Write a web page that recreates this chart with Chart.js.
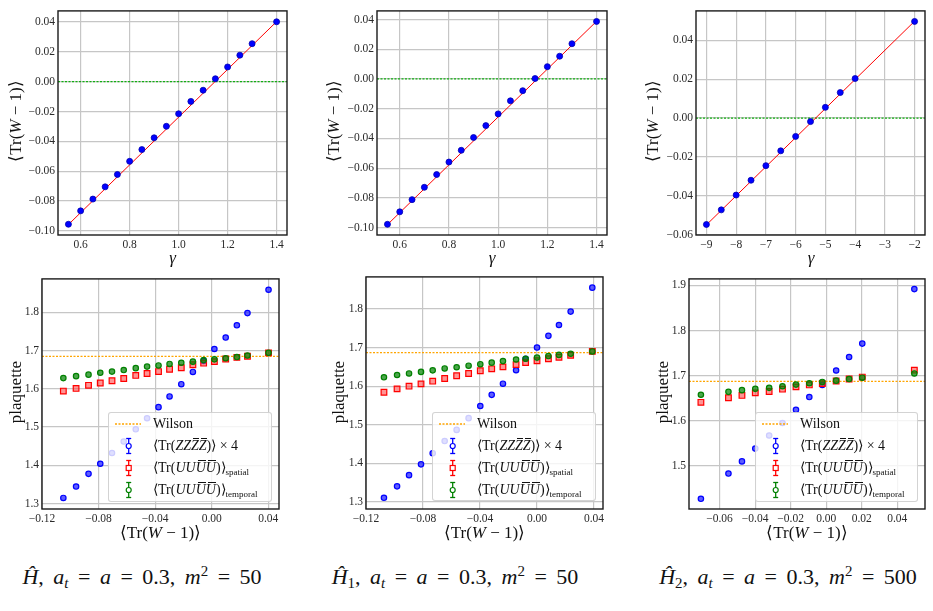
<!DOCTYPE html>
<html><head><meta charset="utf-8">
<script src="https://cdn.jsdelivr.net/npm/chart.js@4"></script>
<style>
body{margin:0;background:#fff;width:933px;height:611px;overflow:hidden;position:relative;font-family:'Liberation Serif','Times New Roman',serif;color:#111;}
canvas{position:absolute;}
.lab{position:absolute;white-space:nowrap;font-size:17px;line-height:1;transform:translate(-50%,-50%);}
.rot{transform:translate(-50%,-50%) rotate(-90deg);}
.cap{position:absolute;white-space:nowrap;font-size:22px;line-height:1;transform:translate(-50%,-50%);word-spacing:4px;font-family:'Liberation Serif',serif;}
sub,sup{font-size:0.68em;line-height:0;}
sub{vertical-align:-0.28em;}
sup{vertical-align:0.55em;}
.leg{position:absolute;background:rgba(255,255,255,0.8);border:1px solid rgba(200,200,200,0.8);border-radius:3px;box-sizing:border-box;}
.row{position:absolute;left:0;height:20px;width:100%;}
.row > svg{position:absolute;left:5px;top:0;}
.row > span{position:absolute;left:44px;top:0;line-height:20px;font-size:14px;white-space:nowrap;}
.row sub{font-size:9px;vertical-align:-3px;}
.ob{position:relative;display:inline-block;line-height:1;}
.ob::before{content:'';position:absolute;left:25%;right:0;top:-0.05em;border-top:1px solid #111;}
</style></head><body>
<script>
// ---- top row: <Tr(W-1)> versus gamma ----
const p1Gamma = [0.55,0.60,0.65,0.70,0.75,0.80,0.85,0.90,0.95,1.00,1.05,1.10,1.15,1.20,1.25,1.30,1.40];
const p1TrW   = [-0.0956,-0.0866,-0.0787,-0.0705,-0.0622,-0.0534,-0.0455,-0.0376,-0.0299,-0.0215,-0.0132,-0.0057,0.0020,0.0099,0.0178,0.0255,0.0402];
const p1FitX  = [0.55,1.40];
const p1FitY  = [-0.0958,0.0403];

const p2Gamma = [0.55,0.60,0.65,0.70,0.75,0.80,0.85,0.90,0.95,1.00,1.05,1.10,1.15,1.20,1.25,1.30,1.40];
const p2TrW   = [-0.0978,-0.0894,-0.0812,-0.0729,-0.0643,-0.0559,-0.0480,-0.0394,-0.0314,-0.0235,-0.0147,-0.0079,0.0003,0.0083,0.0153,0.0237,0.0387];
const p2FitX  = [0.55,1.40];
const p2FitY  = [-0.0980,0.0388];

const p3Gamma = [-9,-8.5,-8,-7.5,-7,-6.5,-6,-5.5,-5,-4.5,-4,-2];
const p3TrW   = [-0.0546,-0.0471,-0.0395,-0.0319,-0.0244,-0.0168,-0.0094,-0.0018,0.0055,0.0131,0.0203,0.0496];
const p3FitX  = [-9,-2];
const p3FitY  = [-0.0548,0.0497];

// ---- bottom row: plaquette versus <Tr(W-1)> ----
const p4TrW      = [-0.1049,-0.0959,-0.0871,-0.0788,-0.0705,-0.0622,-0.0537,-0.0457,-0.0376,-0.0298,-0.0215,-0.0133,-0.0057,0.0019,0.0099,0.0178,0.0253,0.0402];
const p4Zzzz     = [1.3145,1.3443,1.3775,1.4039,1.432,1.462,1.494,1.523,1.552,1.580,1.612,1.644,1.673,1.704,1.734,1.766,1.798,1.859];
const p4Spatial  = [1.594,1.601,1.609,1.615,1.621,1.627,1.635,1.640,1.645,1.651,1.655,1.663,1.667,1.671,1.678,1.682,1.685,1.694];
const p4Temporal = [1.628,1.633,1.637,1.642,1.645,1.649,1.654,1.658,1.661,1.665,1.668,1.671,1.675,1.677,1.680,1.683,1.687,1.694];
const p4Wilson   = 1.685;

const p5TrW      = [-0.1074,-0.0982,-0.0898,-0.0814,-0.0732,-0.0648,-0.0564,-0.0480,-0.0398,-0.0318,-0.0239,-0.0147,-0.0080,0.0000,0.0080,0.0154,0.0236,0.0388];
const p5Zzzz     = [1.311,1.3407,1.3696,1.3976,1.4265,1.4579,1.4868,1.5173,1.5487,1.5776,1.6065,1.6413,1.671,1.700,1.7304,1.7584,1.7932,1.8552];
const p5Spatial  = [1.5844,1.593,1.600,1.606,1.613,1.620,1.627,1.633,1.640,1.645,1.650,1.656,1.661,1.666,1.671,1.675,1.680,1.690];
const p5Temporal = [1.623,1.629,1.633,1.637,1.641,1.646,1.649,1.653,1.657,1.661,1.665,1.669,1.671,1.674,1.678,1.681,1.684,1.690];
const p5Wilson   = 1.687;

const p6TrW      = [-0.0705,-0.0550,-0.0474,-0.0399,-0.0321,-0.0246,-0.0170,-0.0095,-0.0022,0.0056,0.0129,0.0203,0.0496];
const p6Zzzz     = [1.4264,1.4825,1.5095,1.5379,1.567,1.5947,1.6239,1.6523,1.6792,1.7113,1.7412,1.7710,1.892];
const p6Spatial  = [1.6406,1.6508,1.6559,1.6617,1.6647,1.6698,1.6749,1.6792,1.6821,1.688,1.6923,1.6967,1.712];
const p6Temporal = [1.6574,1.6639,1.6676,1.6705,1.6727,1.6763,1.68,1.6829,1.6858,1.6887,1.6923,1.6953,1.7047];
const p6Wilson   = 1.6872;

// ---- tick values ----
const gammaTicks12 = [0.6,0.8,1.0,1.2,1.4];
const gammaTicks3  = [-9,-8,-7,-6,-5,-4,-3,-2];
const trwTicks12   = [-0.10,-0.08,-0.06,-0.04,-0.02,0.00,0.02,0.04];
const trwTicks3    = [-0.06,-0.04,-0.02,0.00,0.02,0.04];
const bxTicks45    = [-0.12,-0.08,-0.04,0.00,0.04];
const bxTicks6     = [-0.06,-0.04,-0.02,0.00,0.02,0.04];
const plaqTicks45  = [1.3,1.4,1.5,1.6,1.7,1.8];
const plaqTicks6   = [1.5,1.6,1.7,1.8,1.9];

const fmt = (v,d) => (v < -1e-12 ? '\u2212' : '') + Math.abs(v).toFixed(d);
const pts = (xs,ys) => xs.map((x,i)=>({x:x,y:ys[i]}));

const frame = {id:'frame', afterDatasetsDraw(c){
  const a=c.chartArea, ctx=c.ctx; ctx.save();
  ctx.strokeStyle='#1a1a1a'; ctx.lineWidth=1.4;
  ctx.strokeRect(a.left,a.top,a.right-a.left,a.bottom-a.top); ctx.restore();
}};

function topSets(xs,ys,fx,fy,xl){
  return [
    {data:pts(xs,ys), pointRadius:3, pointBackgroundColor:'#0000ff', pointBorderColor:'#0000b0', pointBorderWidth:0.8, order:1},
    {data:pts(fx,fy), showLine:true, borderColor:'#ff0000', borderWidth:1, pointRadius:0, order:2},
    {data:pts(xl,[0,0]), showLine:true, borderColor:'#10b010', borderWidth:1.3, borderDash:[2,1.5], pointRadius:0, order:3}
  ];
}
function botSets(xs,z,s,t,w,xl){
  return [
    {data:pts(xs,t), pointStyle:'circle', pointRadius:2.7, pointBorderWidth:1.2, pointBorderColor:'#008000', pointBackgroundColor:'rgba(0,128,0,0.7)', order:1},
    {data:pts(xs,s), pointStyle:'rect', pointRadius:4, pointBorderWidth:1.2, pointBorderColor:'#ff0000', pointBackgroundColor:'rgba(255,60,60,0.55)', order:2},
    {data:pts(xs,z), pointStyle:'circle', pointRadius:2.7, pointBorderWidth:1.2, pointBorderColor:'#0000ff', pointBackgroundColor:'rgba(40,40,255,0.75)', order:3},
    {data:pts(xl,[w,w]), showLine:true, borderColor:'#ffa500', borderWidth:1.3, borderDash:[2,1.5], pointRadius:0, order:4}
  ];
}

const panels = [
  {area:[58,7,287,235],  x:[0.5075,1.4425], y:[-0.1028,0.0475], xt:gammaTicks12, yt:trwTicks12, xd:1, yd:2, sets:topSets(p1Gamma,p1TrW,p1FitX,p1FitY,[0.5075,1.4425])},
  {area:[377,7,607,235], x:[0.5075,1.4425], y:[-0.1050,0.0458], xt:gammaTicks12, yt:trwTicks12, xd:1, yd:2, sets:topSets(p2Gamma,p2TrW,p2FitX,p2FitY,[0.5075,1.4425])},
  {area:[696,7,925,235], x:[-9.35,-1.65],  y:[-0.0600,0.0550], xt:gammaTicks3,  yt:trwTicks3,  xd:0, yd:2, sets:topSets(p3Gamma,p3TrW,p3FitX,p3FitY,[-9.35,-1.65])},
  {area:[42,275,279,509],  x:[-0.12,0.0476], y:[1.2856,1.8874], xt:bxTicks45, yt:plaqTicks45, xd:2, yd:1, sets:botSets(p4TrW,p4Zzzz,p4Spatial,p4Temporal,p4Wilson,[-0.12,0.0476])},
  {area:[366,273,603,509], x:[-0.12,0.0463], y:[1.2820,1.8830], xt:bxTicks45, yt:plaqTicks45, xd:2, yd:1, sets:botSets(p5TrW,p5Zzzz,p5Spatial,p5Temporal,p5Wilson,[-0.12,0.0463])},
  {area:[689,275,925,509], x:[-0.0772,0.0556], y:[1.4038,1.9146], xt:bxTicks6, yt:plaqTicks6, xd:2, yd:1, sets:botSets(p6TrW,p6Zzzz,p6Spatial,p6Temporal,p6Wilson,[-0.0772,0.0556])}
];

const tickFont = {family:"'Liberation Serif', 'Times New Roman', serif", size:11.5};
const gridOpt = {color:'#c6c6c6', lineWidth:1.2, drawTicks:false};

panels.forEach(p=>{
  const [l,t,r,b]=p.area;
  const yw=Math.min(52,l), pt=6, pr=8, xh=22;
  const cv=document.createElement('canvas');
  cv.width=r-l+yw+pr; cv.height=b-t+pt+xh;
  cv.style.width=cv.width+'px'; cv.style.height=cv.height+'px';
  cv.style.left=(l-yw)+'px'; cv.style.top=(t-pt)+'px';
  document.body.appendChild(cv);
  new Chart(cv,{
    type:'scatter',
    data:{datasets:p.sets},
    options:{
      responsive:false, animation:false, events:[],
      layout:{padding:{top:pt,right:pr,left:0,bottom:0}},
      plugins:{legend:{display:false}, tooltip:{enabled:false}},
      scales:{
        x:{type:'linear', min:p.x[0], max:p.x[1],
           afterFit:s=>{s.height=xh;},
           afterBuildTicks:s=>{s.ticks=p.xt.map(v=>({value:v}));},
           ticks:{callback:v=>fmt(v,p.xd), font:tickFont, color:'#2a2a2a', padding:3, maxRotation:0, autoSkip:false},
           grid:gridOpt, border:{display:false}},
        y:{type:'linear', min:p.y[0], max:p.y[1],
           afterFit:s=>{s.width=yw;},
           afterBuildTicks:s=>{s.ticks=p.yt.map(v=>({value:v}));},
           ticks:{callback:v=>fmt(v,p.yd), font:tickFont, color:'#2a2a2a', padding:3, autoSkip:false},
           grid:gridOpt, border:{display:false}}
      }
    },
    plugins:[frame]
  });
});

// ---- axis labels ----
function lab(html,x,y,rot,cls){
  const d=document.createElement('div');
  d.className=(cls||'lab')+(rot?' rot':''); d.innerHTML=html;
  d.style.left=x+'px'; d.style.top=y+'px';
  document.body.appendChild(d);
}
const trw='\u27E8Tr(<i>W</i> \u2212 1)\u27E9';
lab(trw,15,121,true); lab(trw,333,121,true); lab(trw,652,121,true);
lab('<i>\u03B3</i>',172.5,257); lab('<i>\u03B3</i>',492,257); lab('<i>\u03B3</i>',811,257);
lab('plaquette',15,392,true); lab('plaquette',338,392,true); lab('plaquette',662,392,true);
lab(trw,160.5,532); lab(trw,484.5,532); lab(trw,807,532);

// ---- captions ----
lab('<i>\u0124</i>, <i>a<sub>t</sub></i> = <i>a</i> = 0.3, <i>m</i><sup>2</sup> = 50',142,577,false,'cap');
lab('<i>\u0124</i><sub>1</sub>, <i>a<sub>t</sub></i> = <i>a</i> = 0.3, <i>m</i><sup>2</sup> = 50',455,577,false,'cap');
lab('<i>\u0124</i><sub>2</sub>, <i>a<sub>t</sub></i> = <i>a</i> = 0.3, <i>m</i><sup>2</sup> = 500',788,577,false,'cap');

// ---- legends ----
function eb(color,shape){
  const m = shape==='sq'
    ? `<rect x="12.2" y="7.5" width="5" height="5" fill="#fff" stroke="${color}" stroke-width="1.2"/>`
    : `<circle cx="14.7" cy="10" r="2.5" fill="#fff" stroke="${color}" stroke-width="1.2"/>`;
  return `<svg width="30" height="20"><line x1="14.7" y1="2.5" x2="14.7" y2="17.5" stroke="${color}" stroke-width="1.3"/>`+
    `<line x1="12.2" y1="2.5" x2="17.2" y2="2.5" stroke="${color}" stroke-width="1.3"/>`+
    `<line x1="12.2" y1="17.5" x2="17.2" y2="17.5" stroke="${color}" stroke-width="1.3"/>${m}</svg>`;
}
const wilSvg = `<svg width="30" height="20"><line x1="1" y1="10" x2="27" y2="10" stroke="#ffa500" stroke-width="1.4" stroke-dasharray="2,1.5"/></svg>`;
const legRows = [
  [11, wilSvg, 'Wilson'],
  [33, eb('#0000ff','c'), '\u27E8Tr(<i>ZZ<span class="ob">Z</span><span class="ob">Z</span></i>)\u27E9 \u00D7 4'],
  [55, eb('#ff0000','sq'), '\u27E8Tr(<i>UU<span class="ob">U</span><span class="ob">U</span></i>)\u27E9<sub>spatial</sub>'],
  [77, eb('#008000','c'), '\u27E8Tr(<i>UU<span class="ob">U</span><span class="ob">U</span></i>)\u27E9<sub>temporal</sub>']
];
[[108,412,164,90],[432,412,164,89],[755,412,163,90]].forEach(([x,y,w,h])=>{
  const d=document.createElement('div'); d.className='leg';
  d.style.left=x+'px'; d.style.top=y+'px'; d.style.width=w+'px'; d.style.height=h+'px';
  legRows.forEach(([cy,svg,txt])=>{
    const r=document.createElement('div'); r.className='row'; r.style.top=(cy-10)+'px';
    r.innerHTML=svg+'<span>'+txt+'</span>'; d.appendChild(r);
  });
  document.body.appendChild(d);
});
</script>
</body></html>
